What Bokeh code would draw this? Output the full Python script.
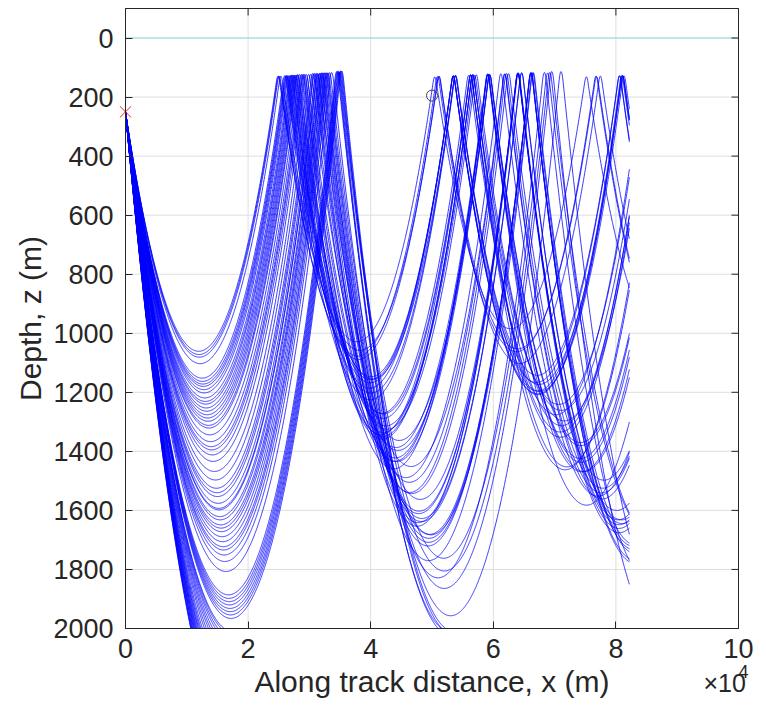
import numpy as np
from bokeh.plotting import figure
from bokeh.models import Range1d, FixedTicker, ColumnDataSource
from bokeh.core.properties import value
from bokeh.embed import file_html
from bokeh.resources import INLINE

# ---- sound-speed profile (depth in m, speed in m/s) ----
profile_depth_m = [0, 100, 112, 130, 150, 250, 1061, 2000, 2600]
profile_speed_ms = [1545.0, 1532.0, 1520.6, 1503.8, 1488.3, 1490.0, 1503.8, 1520.2, 1530.7]

# ---- geometry ----
source_x_m = 0.0
source_depth_m = 250.0
receiver_x_m = 50000.0
receiver_depth_m = 195.0
max_range_m = 82200.0
seafloor_m = 2000.0
surface_m = 0.0

# ---- lower turning depths of the rays ----
lower_turn_depth_m = [1061, 1072, 1081, 1103, 1152, 1163, 1172, 1180, 1191, 1202,
                      1219, 1231, 1240, 1253, 1264, 1276, 1287, 1298, 1312, 1321,
                      1344, 1367, 1384, 1395, 1412, 1434, 1468, 1497, 1525, 1540,
                      1553, 1576, 1593, 1598, 1621, 1632, 1649, 1660, 1672, 1689,
                      1706, 1723, 1734, 1751, 1773, 1807, 1886, 1898, 1909, 1920,
                      1932, 1943, 1954, 1966]
# rays that reach the seafloor and are lost
lost_ray_turn_depth_m = [2010, 2020, 2035, 2050, 2070, 2090, 2110, 2135, 2160, 2190,
                         2215, 2235, 2255, 2270, 2290, 2305, 2320, 2335, 2350, 2365,
                         2380, 2395, 2410, 2425, 2440, 2450]

x_min, x_max = 0, 100000
z_top, z_bottom = -100, 2000
x_ticks = [0, 20000, 40000, 60000, 80000, 100000]
x_tick_labels = ["0", "2", "4", "6", "8", "10"]
x_exponent_base = "×10"
x_exponent_power = "4"
y_ticks = [0, 200, 400, 600, 800, 1000, 1200, 1400, 1600, 1800, 2000]

# ---- ray tracing ----
zp = np.array(profile_depth_m, float)
cp = np.array(profile_speed_ms, float)
gp = np.diff(cp) / np.diff(zp)


def ssp(z):
    c = np.interp(z, zp, cp)
    i = np.clip(np.searchsorted(zp, z, side="right") - 1, 0, len(gp) - 1)
    return c, gp[i]


turn = np.array(lower_turn_depth_m + lost_ray_turn_depth_m, float)
n = len(turn)
c0 = np.interp(source_depth_m, zp, cp)
ct = np.interp(turn, zp, cp)
theta0 = np.arccos(c0 / ct)
xi = np.cos(theta0) / c0
zeta = np.sin(theta0) / c0
x = np.full(n, source_x_m)
z = np.full(n, source_depth_m)
ds = 20.0
hx = [x.copy()]
hz = [z.copy()]
step = 0
while np.any(x <= max_range_m) and step < 6000:
    c1, g1 = ssp(z)
    zm = z + 0.5 * ds * c1 * zeta
    zetam = zeta - 0.5 * ds * g1 / c1 ** 2
    c2, g2 = ssp(zm)
    x = x + ds * c2 * xi
    z = z + ds * c2 * zetam
    zeta = zeta - ds * g2 / c2 ** 2
    step += 1
    if step % 2 == 0:
        hx.append(x.copy())
        hz.append(z.copy())
hx.append(x.copy())
hz.append(z.copy())
HX = np.array(hx)
HZ = np.array(hz)

xs, ys = [], []
for k in range(n):
    rx = HX[:, k].copy()
    rz = HZ[:, k].copy()
    stop = np.where((rx > max_range_m) | (rz > seafloor_m))[0]
    if len(stop):
        e = stop[0]
        a, b = e - 1, e
        if rz[b] > seafloor_m:
            f = (seafloor_m - rz[a]) / (rz[b] - rz[a])
        else:
            f = (max_range_m - rx[a]) / (rx[b] - rx[a])
        rx[b] = rx[a] + f * (rx[b] - rx[a])
        rz[b] = rz[a] + f * (rz[b] - rz[a])
        rx, rz = rx[:b + 1], rz[:b + 1]
    xs.append(rx)
    ys.append(rz)

# ---- figure: the frame covers the whole canvas, the box is drawn inside it ----
W, H = 766, 711
BL, BR, BT, BB = 125, 28, 8, 83       # box margins in pixels
FONT = "Liberation Sans"
TXT = "#262626"
GRID = "#dfdfdf"
px_x = (x_max - x_min) / (W - BL - BR)
px_z = (z_bottom - z_top) / (H - BT - BB)

p = figure(width=W, height=H,
           x_range=Range1d(x_min - BL * px_x, x_max + BR * px_x),
           y_range=Range1d(z_bottom + BB * px_z, z_top - BT * px_z),
           output_backend="svg", toolbar_location=None,
           min_border_left=0, min_border_right=0, min_border_top=0, min_border_bottom=0)
p.background_fill_color = "white"
p.border_fill_color = "white"
p.outline_line_color = None
p.xgrid.visible = False
p.ygrid.visible = False

# grid lines inside the box
p.segment(x0=x_ticks, y0=[z_top] * len(x_ticks), x1=x_ticks, y1=[z_bottom] * len(x_ticks),
          line_color=GRID, line_width=1)
p.segment(x0=[x_min] * len(y_ticks), y0=y_ticks, x1=[x_max] * len(y_ticks), y1=y_ticks,
          line_color=GRID, line_width=1)

# sea surface
p.segment(x0=[x_min], y0=[surface_m], x1=[x_max], y1=[surface_m], line_color="#8adfe3",
          line_width=1.2)

# rays
src = ColumnDataSource(data=dict(xs=xs, ys=ys))
p.multi_line("xs", "ys", source=src, line_color="#0000ff", line_width=0.8)

# box and the ticks of its top and right edges
p.quad(left=[x_min], right=[x_max], top=[z_top], bottom=[z_bottom], fill_color=None,
       line_color=TXT, line_width=1)
tick_len = 7
p.segment(x0=x_ticks, y0=[z_top] * len(x_ticks), x1=x_ticks,
          y1=[z_top + tick_len * px_z] * len(x_ticks), line_color=TXT, line_width=1)
p.segment(x0=[x_max] * len(y_ticks), y0=y_ticks, x1=[x_max - tick_len * px_x] * len(y_ticks),
          y1=y_ticks, line_color=TXT, line_width=1)

# axes, fixed on the box edges
for ax in (p.xaxis[0], p.yaxis[0]):
    ax.major_tick_in = tick_len
    ax.major_tick_out = 0
    ax.minor_tick_line_color = None
    ax.axis_line_color = TXT
    ax.major_tick_line_color = TXT
    ax.major_label_text_font = FONT
    ax.major_label_text_font_size = "27px"
    ax.major_label_text_color = TXT
    ax.axis_label_text_font = FONT
    ax.axis_label_text_font_size = "30px"
    ax.axis_label_text_font_style = "normal"
    ax.axis_label_text_color = TXT

p.xaxis.fixed_location = z_bottom
p.xaxis.bounds = (x_min, x_max)
p.xaxis.ticker = FixedTicker(ticks=x_ticks)
p.xaxis.major_label_overrides = {t: l for t, l in zip(x_ticks, x_tick_labels)}
p.xaxis.axis_label = "Along track distance, x (m)"
p.xaxis.major_label_standoff = 10
p.xaxis.axis_label_standoff = 4

p.yaxis.fixed_location = x_min
p.yaxis.bounds = (z_top, z_bottom)
p.yaxis.ticker = FixedTicker(ticks=y_ticks)
p.yaxis.axis_label = "Depth, z (m)"
p.yaxis.major_label_standoff = 12
p.yaxis.axis_label_standoff = 3

# source and receiver
p.scatter([source_x_m], [source_depth_m], marker="x", size=16, line_color="#ff2020",
          line_width=1)
p.scatter([receiver_x_m], [receiver_depth_m], marker="circle", size=11, fill_color=None,
          line_color="#444444", line_width=1)

# exponent of the x axis (placed by pixel offsets from the box)
p.text(x=[x_min + (703 - BL) * px_x], y=[z_top + (682 - BT) * px_z], text=[x_exponent_base],
       text_font=value(FONT), text_font_size="25px", text_color=TXT,
       text_baseline="alphabetic", text_align="left")
p.text(x=[x_min + (738 - BL) * px_x], y=[z_top + (671 - BT) * px_z], text=[x_exponent_power],
       text_font=value(FONT), text_font_size="18px", text_color=TXT,
       text_baseline="alphabetic", text_align="left")

open("out.html", "w").write(file_html(p, INLINE))
